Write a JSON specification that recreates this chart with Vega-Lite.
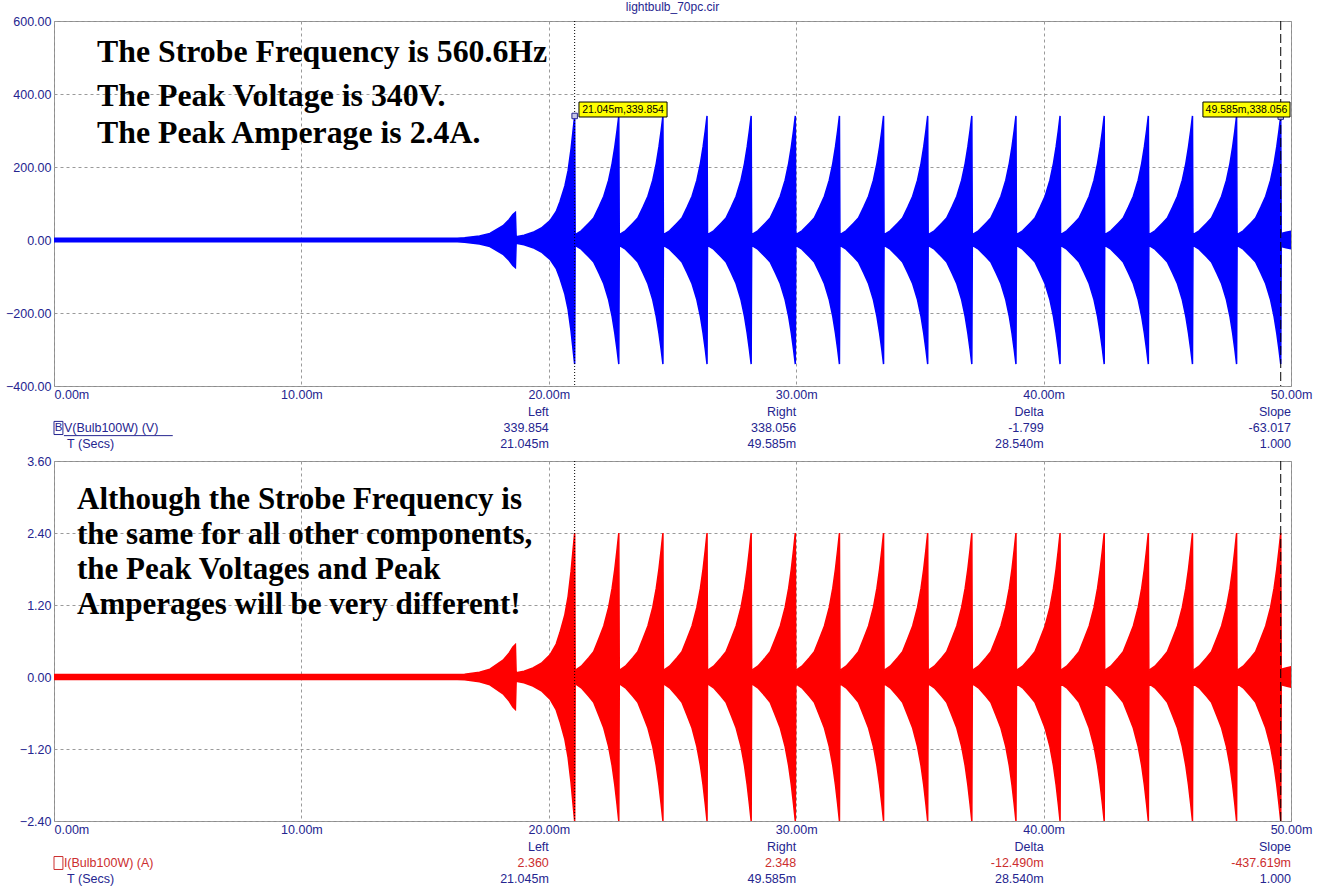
{
  "$schema": "https://vega.github.io/schema/vega-lite/v6.json",
  "background": "white",
  "padding": {"left": 4, "top": 0, "right": 5, "bottom": 0},
  "bounds": "flush",
  "spacing": 75,
  "config": {
    "view": {"stroke": "#8c8c8c", "strokeWidth": 1},
    "axis": {"labelFont": "Liberation Sans", "labelFontSize": 12.5, "labelColor": "#25258f", "ticks": false, "domain": false, "grid": true, "gridColor": "#9a9a9a", "gridDash": [3, 3], "gridWidth": 1, "title": null, "labelOverlap": false},
    "text": {"font": "Liberation Sans"}
  },
  "datasets": {
    "wave": [
      {"t":0,"vh":5,"vl":-5,"ih":0.04,"il":-0.04},
      {"t":16.3,"vh":5,"vl":-5,"ih":0.04,"il":-0.04},
      {"t":16.6,"vh":6,"vl":-6,"ih":0.045,"il":-0.045},
      {"t":17.2,"vh":11,"vl":-11,"ih":0.08,"il":-0.08},
      {"t":17.62,"vh":18,"vl":-18,"ih":0.13,"il":-0.13},
      {"t":18.15,"vh":39,"vl":-39,"ih":0.28,"il":-0.28},
      {"t":18.4,"vh":56,"vl":-56,"ih":0.4,"il":-0.4},
      {"t":18.55,"vh":70,"vl":-70,"ih":0.5,"il":-0.5},
      {"t":18.65,"vh":76,"vl":-76,"ih":0.54,"il":-0.54},
      {"t":18.68,"vh":9,"vl":-9,"ih":0.07,"il":-0.07},
      {"t":19.0,"vh":13,"vl":-13,"ih":0.095,"il":-0.095},
      {"t":19.36,"vh":21,"vl":-21,"ih":0.15,"il":-0.15},
      {"t":19.7,"vh":33,"vl":-33,"ih":0.23,"il":-0.23},
      {"t":20.05,"vh":53,"vl":-53,"ih":0.37,"il":-0.37},
      {"t":20.3,"vh":78,"vl":-78,"ih":0.55,"il":-0.55},
      {"t":20.45,"vh":105,"vl":-105,"ih":0.74,"il":-0.74},
      {"t":20.65,"vh":148,"vl":-148,"ih":1.04,"il":-1.04},
      {"t":20.78,"vh":190,"vl":-190,"ih":1.34,"il":-1.34},
      {"t":20.9,"vh":250,"vl":-250,"ih":1.76,"il":-1.76},
      {"t":20.98,"vh":300,"vl":-300,"ih":2.12,"il":-2.12},
      {"t":21.045,"vh":340,"vl":-340,"ih":2.4,"il":-2.4},

      {"t":21.065,"vh":15,"vl":-15,"ih":0.11,"il":-0.11},
      {"t":21.313,"vh":25,"vl":-25,"ih":0.18,"il":-0.18},
      {"t":21.616,"vh":46,"vl":-46,"ih":0.32,"il":-0.32},
      {"t":21.812,"vh":60,"vl":-60,"ih":0.42,"il":-0.42},
      {"t":22.026,"vh":90,"vl":-90,"ih":0.64,"il":-0.64},
      {"t":22.222,"vh":120,"vl":-120,"ih":0.85,"il":-0.85},
      {"t":22.418,"vh":164,"vl":-164,"ih":1.16,"il":-1.16},
      {"t":22.561,"vh":210,"vl":-210,"ih":1.48,"il":-1.48},
      {"t":22.668,"vh":255,"vl":-255,"ih":1.8,"il":-1.8},
      {"t":22.757,"vh":300,"vl":-300,"ih":2.12,"il":-2.12},
      {"t":22.829,"vh":340,"vl":-340,"ih":2.4,"il":-2.4},

      {"t":22.849,"vh":15,"vl":-15,"ih":0.11,"il":-0.11},
      {"t":23.097,"vh":25,"vl":-25,"ih":0.18,"il":-0.18},
      {"t":23.4,"vh":46,"vl":-46,"ih":0.32,"il":-0.32},
      {"t":23.596,"vh":60,"vl":-60,"ih":0.42,"il":-0.42},
      {"t":23.81,"vh":90,"vl":-90,"ih":0.64,"il":-0.64},
      {"t":24.006,"vh":120,"vl":-120,"ih":0.85,"il":-0.85},
      {"t":24.202,"vh":164,"vl":-164,"ih":1.16,"il":-1.16},
      {"t":24.345,"vh":210,"vl":-210,"ih":1.48,"il":-1.48},
      {"t":24.452,"vh":255,"vl":-255,"ih":1.8,"il":-1.8},
      {"t":24.541,"vh":300,"vl":-300,"ih":2.12,"il":-2.12},
      {"t":24.613,"vh":340,"vl":-340,"ih":2.4,"il":-2.4},

      {"t":24.633,"vh":15,"vl":-15,"ih":0.11,"il":-0.11},
      {"t":24.881,"vh":25,"vl":-25,"ih":0.18,"il":-0.18},
      {"t":25.184,"vh":46,"vl":-46,"ih":0.32,"il":-0.32},
      {"t":25.38,"vh":60,"vl":-60,"ih":0.42,"il":-0.42},
      {"t":25.594,"vh":90,"vl":-90,"ih":0.64,"il":-0.64},
      {"t":25.79,"vh":120,"vl":-120,"ih":0.85,"il":-0.85},
      {"t":25.986,"vh":164,"vl":-164,"ih":1.16,"il":-1.16},
      {"t":26.129,"vh":210,"vl":-210,"ih":1.48,"il":-1.48},
      {"t":26.236,"vh":255,"vl":-255,"ih":1.8,"il":-1.8},
      {"t":26.325,"vh":300,"vl":-300,"ih":2.12,"il":-2.12},
      {"t":26.396,"vh":340,"vl":-340,"ih":2.4,"il":-2.4},

      {"t":26.416,"vh":15,"vl":-15,"ih":0.11,"il":-0.11},
      {"t":26.664,"vh":25,"vl":-25,"ih":0.18,"il":-0.18},
      {"t":26.967,"vh":46,"vl":-46,"ih":0.32,"il":-0.32},
      {"t":27.163,"vh":60,"vl":-60,"ih":0.42,"il":-0.42},
      {"t":27.377,"vh":90,"vl":-90,"ih":0.64,"il":-0.64},
      {"t":27.573,"vh":120,"vl":-120,"ih":0.85,"il":-0.85},
      {"t":27.769,"vh":164,"vl":-164,"ih":1.16,"il":-1.16},
      {"t":27.912,"vh":210,"vl":-210,"ih":1.48,"il":-1.48},
      {"t":28.019,"vh":255,"vl":-255,"ih":1.8,"il":-1.8},
      {"t":28.108,"vh":300,"vl":-300,"ih":2.12,"il":-2.12},
      {"t":28.18,"vh":340,"vl":-340,"ih":2.4,"il":-2.4},

      {"t":28.2,"vh":15,"vl":-15,"ih":0.11,"il":-0.11},
      {"t":28.448,"vh":25,"vl":-25,"ih":0.18,"il":-0.18},
      {"t":28.751,"vh":46,"vl":-46,"ih":0.32,"il":-0.32},
      {"t":28.947,"vh":60,"vl":-60,"ih":0.42,"il":-0.42},
      {"t":29.161,"vh":90,"vl":-90,"ih":0.64,"il":-0.64},
      {"t":29.357,"vh":120,"vl":-120,"ih":0.85,"il":-0.85},
      {"t":29.553,"vh":164,"vl":-164,"ih":1.16,"il":-1.16},
      {"t":29.696,"vh":210,"vl":-210,"ih":1.48,"il":-1.48},
      {"t":29.803,"vh":255,"vl":-255,"ih":1.8,"il":-1.8},
      {"t":29.892,"vh":300,"vl":-300,"ih":2.12,"il":-2.12},
      {"t":29.964,"vh":340,"vl":-340,"ih":2.4,"il":-2.4},

      {"t":29.984,"vh":15,"vl":-15,"ih":0.11,"il":-0.11},
      {"t":30.232,"vh":25,"vl":-25,"ih":0.18,"il":-0.18},
      {"t":30.535,"vh":46,"vl":-46,"ih":0.32,"il":-0.32},
      {"t":30.731,"vh":60,"vl":-60,"ih":0.42,"il":-0.42},
      {"t":30.945,"vh":90,"vl":-90,"ih":0.64,"il":-0.64},
      {"t":31.141,"vh":120,"vl":-120,"ih":0.85,"il":-0.85},
      {"t":31.337,"vh":164,"vl":-164,"ih":1.16,"il":-1.16},
      {"t":31.48,"vh":210,"vl":-210,"ih":1.48,"il":-1.48},
      {"t":31.587,"vh":255,"vl":-255,"ih":1.8,"il":-1.8},
      {"t":31.676,"vh":300,"vl":-300,"ih":2.12,"il":-2.12},
      {"t":31.748,"vh":340,"vl":-340,"ih":2.4,"il":-2.4},

      {"t":31.768,"vh":15,"vl":-15,"ih":0.11,"il":-0.11},
      {"t":32.016,"vh":25,"vl":-25,"ih":0.18,"il":-0.18},
      {"t":32.319,"vh":46,"vl":-46,"ih":0.32,"il":-0.32},
      {"t":32.515,"vh":60,"vl":-60,"ih":0.42,"il":-0.42},
      {"t":32.729,"vh":90,"vl":-90,"ih":0.64,"il":-0.64},
      {"t":32.925,"vh":120,"vl":-120,"ih":0.85,"il":-0.85},
      {"t":33.121,"vh":164,"vl":-164,"ih":1.16,"il":-1.16},
      {"t":33.264,"vh":210,"vl":-210,"ih":1.48,"il":-1.48},
      {"t":33.371,"vh":255,"vl":-255,"ih":1.8,"il":-1.8},
      {"t":33.46,"vh":300,"vl":-300,"ih":2.12,"il":-2.12},
      {"t":33.531,"vh":340,"vl":-340,"ih":2.4,"il":-2.4},

      {"t":33.551,"vh":15,"vl":-15,"ih":0.11,"il":-0.11},
      {"t":33.799,"vh":25,"vl":-25,"ih":0.18,"il":-0.18},
      {"t":34.102,"vh":46,"vl":-46,"ih":0.32,"il":-0.32},
      {"t":34.298,"vh":60,"vl":-60,"ih":0.42,"il":-0.42},
      {"t":34.512,"vh":90,"vl":-90,"ih":0.64,"il":-0.64},
      {"t":34.708,"vh":120,"vl":-120,"ih":0.85,"il":-0.85},
      {"t":34.904,"vh":164,"vl":-164,"ih":1.16,"il":-1.16},
      {"t":35.047,"vh":210,"vl":-210,"ih":1.48,"il":-1.48},
      {"t":35.154,"vh":255,"vl":-255,"ih":1.8,"il":-1.8},
      {"t":35.243,"vh":300,"vl":-300,"ih":2.12,"il":-2.12},
      {"t":35.315,"vh":340,"vl":-340,"ih":2.4,"il":-2.4},

      {"t":35.335,"vh":15,"vl":-15,"ih":0.11,"il":-0.11},
      {"t":35.583,"vh":25,"vl":-25,"ih":0.18,"il":-0.18},
      {"t":35.886,"vh":46,"vl":-46,"ih":0.32,"il":-0.32},
      {"t":36.082,"vh":60,"vl":-60,"ih":0.42,"il":-0.42},
      {"t":36.296,"vh":90,"vl":-90,"ih":0.64,"il":-0.64},
      {"t":36.492,"vh":120,"vl":-120,"ih":0.85,"il":-0.85},
      {"t":36.688,"vh":164,"vl":-164,"ih":1.16,"il":-1.16},
      {"t":36.831,"vh":210,"vl":-210,"ih":1.48,"il":-1.48},
      {"t":36.938,"vh":255,"vl":-255,"ih":1.8,"il":-1.8},
      {"t":37.027,"vh":300,"vl":-300,"ih":2.12,"il":-2.12},
      {"t":37.099,"vh":340,"vl":-340,"ih":2.4,"il":-2.4},

      {"t":37.119,"vh":15,"vl":-15,"ih":0.11,"il":-0.11},
      {"t":37.367,"vh":25,"vl":-25,"ih":0.18,"il":-0.18},
      {"t":37.67,"vh":46,"vl":-46,"ih":0.32,"il":-0.32},
      {"t":37.866,"vh":60,"vl":-60,"ih":0.42,"il":-0.42},
      {"t":38.08,"vh":90,"vl":-90,"ih":0.64,"il":-0.64},
      {"t":38.276,"vh":120,"vl":-120,"ih":0.85,"il":-0.85},
      {"t":38.472,"vh":164,"vl":-164,"ih":1.16,"il":-1.16},
      {"t":38.615,"vh":210,"vl":-210,"ih":1.48,"il":-1.48},
      {"t":38.722,"vh":255,"vl":-255,"ih":1.8,"il":-1.8},
      {"t":38.811,"vh":300,"vl":-300,"ih":2.12,"il":-2.12},
      {"t":38.883,"vh":340,"vl":-340,"ih":2.4,"il":-2.4},

      {"t":38.903,"vh":15,"vl":-15,"ih":0.11,"il":-0.11},
      {"t":39.151,"vh":25,"vl":-25,"ih":0.18,"il":-0.18},
      {"t":39.454,"vh":46,"vl":-46,"ih":0.32,"il":-0.32},
      {"t":39.65,"vh":60,"vl":-60,"ih":0.42,"il":-0.42},
      {"t":39.864,"vh":90,"vl":-90,"ih":0.64,"il":-0.64},
      {"t":40.06,"vh":120,"vl":-120,"ih":0.85,"il":-0.85},
      {"t":40.256,"vh":164,"vl":-164,"ih":1.16,"il":-1.16},
      {"t":40.399,"vh":210,"vl":-210,"ih":1.48,"il":-1.48},
      {"t":40.506,"vh":255,"vl":-255,"ih":1.8,"il":-1.8},
      {"t":40.595,"vh":300,"vl":-300,"ih":2.12,"il":-2.12},
      {"t":40.666,"vh":340,"vl":-340,"ih":2.4,"il":-2.4},

      {"t":40.686,"vh":15,"vl":-15,"ih":0.11,"il":-0.11},
      {"t":40.934,"vh":25,"vl":-25,"ih":0.18,"il":-0.18},
      {"t":41.237,"vh":46,"vl":-46,"ih":0.32,"il":-0.32},
      {"t":41.433,"vh":60,"vl":-60,"ih":0.42,"il":-0.42},
      {"t":41.647,"vh":90,"vl":-90,"ih":0.64,"il":-0.64},
      {"t":41.843,"vh":120,"vl":-120,"ih":0.85,"il":-0.85},
      {"t":42.039,"vh":164,"vl":-164,"ih":1.16,"il":-1.16},
      {"t":42.182,"vh":210,"vl":-210,"ih":1.48,"il":-1.48},
      {"t":42.289,"vh":255,"vl":-255,"ih":1.8,"il":-1.8},
      {"t":42.378,"vh":300,"vl":-300,"ih":2.12,"il":-2.12},
      {"t":42.45,"vh":340,"vl":-340,"ih":2.4,"il":-2.4},

      {"t":42.47,"vh":15,"vl":-15,"ih":0.11,"il":-0.11},
      {"t":42.718,"vh":25,"vl":-25,"ih":0.18,"il":-0.18},
      {"t":43.021,"vh":46,"vl":-46,"ih":0.32,"il":-0.32},
      {"t":43.217,"vh":60,"vl":-60,"ih":0.42,"il":-0.42},
      {"t":43.431,"vh":90,"vl":-90,"ih":0.64,"il":-0.64},
      {"t":43.627,"vh":120,"vl":-120,"ih":0.85,"il":-0.85},
      {"t":43.823,"vh":164,"vl":-164,"ih":1.16,"il":-1.16},
      {"t":43.966,"vh":210,"vl":-210,"ih":1.48,"il":-1.48},
      {"t":44.073,"vh":255,"vl":-255,"ih":1.8,"il":-1.8},
      {"t":44.162,"vh":300,"vl":-300,"ih":2.12,"il":-2.12},
      {"t":44.234,"vh":340,"vl":-340,"ih":2.4,"il":-2.4},

      {"t":44.254,"vh":15,"vl":-15,"ih":0.11,"il":-0.11},
      {"t":44.502,"vh":25,"vl":-25,"ih":0.18,"il":-0.18},
      {"t":44.805,"vh":46,"vl":-46,"ih":0.32,"il":-0.32},
      {"t":45.001,"vh":60,"vl":-60,"ih":0.42,"il":-0.42},
      {"t":45.215,"vh":90,"vl":-90,"ih":0.64,"il":-0.64},
      {"t":45.411,"vh":120,"vl":-120,"ih":0.85,"il":-0.85},
      {"t":45.607,"vh":164,"vl":-164,"ih":1.16,"il":-1.16},
      {"t":45.75,"vh":210,"vl":-210,"ih":1.48,"il":-1.48},
      {"t":45.857,"vh":255,"vl":-255,"ih":1.8,"il":-1.8},
      {"t":45.946,"vh":300,"vl":-300,"ih":2.12,"il":-2.12},
      {"t":46.018,"vh":340,"vl":-340,"ih":2.4,"il":-2.4},

      {"t":46.038,"vh":15,"vl":-15,"ih":0.11,"il":-0.11},
      {"t":46.286,"vh":25,"vl":-25,"ih":0.18,"il":-0.18},
      {"t":46.589,"vh":46,"vl":-46,"ih":0.32,"il":-0.32},
      {"t":46.785,"vh":60,"vl":-60,"ih":0.42,"il":-0.42},
      {"t":46.999,"vh":90,"vl":-90,"ih":0.64,"il":-0.64},
      {"t":47.195,"vh":120,"vl":-120,"ih":0.85,"il":-0.85},
      {"t":47.391,"vh":164,"vl":-164,"ih":1.16,"il":-1.16},
      {"t":47.534,"vh":210,"vl":-210,"ih":1.48,"il":-1.48},
      {"t":47.641,"vh":255,"vl":-255,"ih":1.8,"il":-1.8},
      {"t":47.73,"vh":300,"vl":-300,"ih":2.12,"il":-2.12},
      {"t":47.801,"vh":340,"vl":-340,"ih":2.4,"il":-2.4},

      {"t":47.821,"vh":15,"vl":-15,"ih":0.11,"il":-0.11},
      {"t":48.069,"vh":25,"vl":-25,"ih":0.18,"il":-0.18},
      {"t":48.372,"vh":46,"vl":-46,"ih":0.32,"il":-0.32},
      {"t":48.568,"vh":60,"vl":-60,"ih":0.42,"il":-0.42},
      {"t":48.782,"vh":90,"vl":-90,"ih":0.64,"il":-0.64},
      {"t":48.978,"vh":120,"vl":-120,"ih":0.85,"il":-0.85},
      {"t":49.174,"vh":164,"vl":-164,"ih":1.16,"il":-1.16},
      {"t":49.317,"vh":210,"vl":-210,"ih":1.48,"il":-1.48},
      {"t":49.424,"vh":255,"vl":-255,"ih":1.8,"il":-1.8},
      {"t":49.513,"vh":300,"vl":-300,"ih":2.12,"il":-2.12},
      {"t":49.585,"vh":340,"vl":-340,"ih":2.4,"il":-2.4},

      {"t":49.605,"vh":18,"vl":-18,"ih":0.13,"il":-0.13},
      {"t":49.8,"vh":21,"vl":-21,"ih":0.15,"il":-0.15},
      {"t":50.0,"vh":24,"vl":-24,"ih":0.17,"il":-0.17}
    ],
    "cursorL": [{"t": 21.045}],
    "cursorR": [{"t": 49.585}]
  },
  "vconcat": [
    {
      "width": 1237,
      "height": 365,
      "title": {"text": "lightbulb_70pc.cir", "font": "Liberation Sans", "fontSize": 12, "fontWeight": "normal", "color": "#25258f", "offset": 1, "anchor": "middle"},
      "layer": [
        {
          "data": {"name": "wave"},
          "mark": {"type": "area", "color": "#0000ff", "stroke": "#0000ff", "strokeWidth": 1.5, "clip": true},
          "encoding": {
            "x": {"field": "t", "type": "quantitative", "scale": {"domain": [0, 50], "nice": false, "zero": false},
                  "axis": {"values": [0, 10, 20, 30, 40, 50], "labelExpr": "format(datum.value, '.2f') + 'm'", "labelFlush": false, "labelPadding": 2,
                           "labelAlign": {"condition": {"test": "datum.value == 0", "value": "left"}, "value": "center"}}},
            "y": {"field": "vh", "type": "quantitative", "scale": {"domain": [-400, 600], "nice": false, "zero": false},
                  "axis": {"values": [-400, -200, 0, 200, 400, 600], "format": ".2f", "labelPadding": 3}},
            "y2": {"field": "vl"}
          }
        },
        {
          "data": {"name": "cursorL"},
          "mark": {"type": "rule", "color": "#000000", "strokeWidth": 1, "strokeDash": [1, 2]},
          "encoding": {"x": {"field": "t", "type": "quantitative"}}
        },
        {
          "data": {"name": "cursorR"},
          "mark": {"type": "rule", "color": "#000000", "strokeWidth": 1, "strokeDash": [9, 4]},
          "encoding": {"x": {"field": "t", "type": "quantitative"}}
        },
        {
          "data": {"values": [{"t": 21.045, "v": 339.854}, {"t": 49.585, "v": 338.056}]},
          "mark": {"type": "point", "shape": "square", "size": 30, "filled": true, "fill": "#c8c8e6", "stroke": "#25258f", "strokeWidth": 1, "opacity": 1},
          "encoding": {"x": {"field": "t", "type": "quantitative"}, "y": {"field": "v", "type": "quantitative"}}
        },
        {
          "data": {"values": [{"t1": 21.22, "t2": 24.78, "y1": 337, "y2": 378}, {"t1": 46.44, "t2": 49.96, "y1": 337, "y2": 378}]},
          "mark": {"type": "rect", "fill": "#ffff00", "stroke": "#000000", "strokeWidth": 1},
          "encoding": {"x": {"field": "t1", "type": "quantitative"}, "x2": {"field": "t2"}, "y": {"field": "y1", "type": "quantitative"}, "y2": {"field": "y2"}}
        },
        {
          "data": {"values": [{"t": 23.0, "y": 357.5, "label": "21.045m,339.854"}, {"t": 48.2, "y": 357.5, "label": "49.585m,338.056"}]},
          "mark": {"type": "text", "font": "Liberation Sans", "fontSize": 10.5, "color": "#000000", "align": "center", "baseline": "middle"},
          "encoding": {"x": {"field": "t", "type": "quantitative"}, "y": {"field": "y", "type": "quantitative"}, "text": {"field": "label"}}
        },
        {
          "data": {"values": [
            {"t": 1.74, "y": 488, "label": "The Strobe Frequency is 560.6Hz"},
            {"t": 1.74, "y": 367, "label": "The Peak Voltage is 340V."},
            {"t": 1.74, "y": 266, "label": "The Peak Amperage is 2.4A."}
          ]},
          "mark": {"type": "text", "font": "Liberation Serif", "fontWeight": "bold", "fontSize": 31.8, "color": "#000000", "align": "left", "baseline": "alphabetic"},
          "encoding": {"x": {"field": "t", "type": "quantitative"}, "y": {"field": "y", "type": "quantitative"}, "text": {"field": "label"}}
        },
        {
          "data": {"values": [
            {"t": 20, "y": -471, "label": "Left"}, {"t": 20, "y": -515, "label": "339.854"}, {"t": 20, "y": -559, "label": "21.045m"},
            {"t": 30, "y": -471, "label": "Right"}, {"t": 30, "y": -515, "label": "338.056"}, {"t": 30, "y": -559, "label": "49.585m"},
            {"t": 40, "y": -471, "label": "Delta"}, {"t": 40, "y": -515, "label": "-1.799"}, {"t": 40, "y": -559, "label": "28.540m"},
            {"t": 50, "y": -471, "label": "Slope"}, {"t": 50, "y": -515, "label": "-63.017"}, {"t": 50, "y": -559, "label": "1.000"}
          ]},
          "mark": {"type": "text", "font": "Liberation Sans", "fontSize": 12.5, "color": "#25258f", "align": "right", "baseline": "middle"},
          "encoding": {"x": {"field": "t", "type": "quantitative"}, "y": {"field": "y", "type": "quantitative"}, "text": {"field": "label"}}
        },
        {
          "data": {"values": [
            {"t": 0.4, "y": -515, "label": "V(Bulb100W) (V)"},
            {"t": 0.53, "y": -559, "label": "T (Secs)"}
          ]},
          "mark": {"type": "text", "font": "Liberation Sans", "fontSize": 12.5, "color": "#25258f", "align": "left", "baseline": "middle"},
          "encoding": {"x": {"field": "t", "type": "quantitative"}, "y": {"field": "y", "type": "quantitative"}, "text": {"field": "label"}}
        },
        {
          "data": {"values": [{"t1": 0.0, "t2": 0.36, "y1": -497, "y2": -533}]},
          "mark": {"type": "rect", "fill": null, "fillOpacity": 0, "stroke": "#25258f", "strokeWidth": 1},
          "encoding": {"x": {"field": "t1", "type": "quantitative"}, "x2": {"field": "t2"}, "y": {"field": "y1", "type": "quantitative"}, "y2": {"field": "y2"}}
        },
        {
          "data": {"values": [{"t": 0.18, "y": -515, "label": "B"}]},
          "mark": {"type": "text", "font": "Liberation Sans", "fontSize": 11.5, "color": "#25258f", "align": "center", "baseline": "middle"},
          "encoding": {"x": {"field": "t", "type": "quantitative"}, "y": {"field": "y", "type": "quantitative"}, "text": {"field": "label"}}
        },
        {
          "data": {"values": [{"t1": 0.4, "t2": 4.8, "y": -536}]},
          "mark": {"type": "rule", "color": "#25258f", "strokeWidth": 1},
          "encoding": {"x": {"field": "t1", "type": "quantitative"}, "x2": {"field": "t2"}, "y": {"field": "y", "type": "quantitative"}}
        }
      ]
    },
    {
      "width": 1237,
      "height": 360,
      "layer": [
        {
          "data": {"name": "wave"},
          "mark": {"type": "area", "color": "#ff0000", "stroke": "#ff0000", "strokeWidth": 1.5, "clip": true},
          "encoding": {
            "x": {"field": "t", "type": "quantitative", "scale": {"domain": [0, 50], "nice": false, "zero": false},
                  "axis": {"values": [0, 10, 20, 30, 40, 50], "labelExpr": "format(datum.value, '.2f') + 'm'", "labelFlush": false, "labelPadding": 2,
                           "labelAlign": {"condition": {"test": "datum.value == 0", "value": "left"}, "value": "center"}}},
            "y": {"field": "ih", "type": "quantitative", "scale": {"domain": [-2.4, 3.6], "nice": false, "zero": false},
                  "axis": {"values": [-2.4, -1.2, 0, 1.2, 2.4, 3.6], "format": ".2f", "labelPadding": 3}},
            "y2": {"field": "il"}
          }
        },
        {
          "data": {"name": "cursorL"},
          "mark": {"type": "rule", "color": "#000000", "strokeWidth": 1, "strokeDash": [1, 2]},
          "encoding": {"x": {"field": "t", "type": "quantitative"}}
        },
        {
          "data": {"name": "cursorR"},
          "mark": {"type": "rule", "color": "#000000", "strokeWidth": 1, "strokeDash": [9, 4]},
          "encoding": {"x": {"field": "t", "type": "quantitative"}}
        },
        {
          "data": {"values": [
            {"t": 0.93, "y": 2.8, "label": "Although the Strobe Frequency is"},
            {"t": 0.93, "y": 2.217, "label": "the same for all other components,"},
            {"t": 0.93, "y": 1.633, "label": "the Peak Voltages and Peak"},
            {"t": 0.93, "y": 1.05, "label": "Amperages will be very different!"}
          ]},
          "mark": {"type": "text", "font": "Liberation Serif", "fontWeight": "bold", "fontSize": 31, "color": "#000000", "align": "left", "baseline": "alphabetic"},
          "encoding": {"x": {"field": "t", "type": "quantitative"}, "y": {"field": "y", "type": "quantitative"}, "text": {"field": "label"}}
        },
        {
          "data": {"values": [
            {"t": 20, "y": -2.833, "label": "Left"}, {"t": 20, "y": -3.367, "label": "21.045m"},
            {"t": 30, "y": -2.833, "label": "Right"}, {"t": 30, "y": -3.367, "label": "49.585m"},
            {"t": 40, "y": -2.833, "label": "Delta"}, {"t": 40, "y": -3.367, "label": "28.540m"},
            {"t": 50, "y": -2.833, "label": "Slope"}, {"t": 50, "y": -3.367, "label": "1.000"}
          ]},
          "mark": {"type": "text", "font": "Liberation Sans", "fontSize": 12.5, "color": "#25258f", "align": "right", "baseline": "middle"},
          "encoding": {"x": {"field": "t", "type": "quantitative"}, "y": {"field": "y", "type": "quantitative"}, "text": {"field": "label"}}
        },
        {
          "data": {"values": [
            {"t": 20, "y": -3.1, "label": "2.360"},
            {"t": 30, "y": -3.1, "label": "2.348"},
            {"t": 40, "y": -3.1, "label": "-12.490m"},
            {"t": 50, "y": -3.1, "label": "-437.619m"}
          ]},
          "mark": {"type": "text", "font": "Liberation Sans", "fontSize": 12.5, "color": "#cc2e2e", "align": "right", "baseline": "middle"},
          "encoding": {"x": {"field": "t", "type": "quantitative"}, "y": {"field": "y", "type": "quantitative"}, "text": {"field": "label"}}
        },
        {
          "data": {"values": [{"t": 0.4, "y": -3.1, "label": "I(Bulb100W) (A)"}]},
          "mark": {"type": "text", "font": "Liberation Sans", "fontSize": 12.5, "color": "#cc2e2e", "align": "left", "baseline": "middle"},
          "encoding": {"x": {"field": "t", "type": "quantitative"}, "y": {"field": "y", "type": "quantitative"}, "text": {"field": "label"}}
        },
        {
          "data": {"values": [{"t": 0.53, "y": -3.367, "label": "T (Secs)"}]},
          "mark": {"type": "text", "font": "Liberation Sans", "fontSize": 12.5, "color": "#25258f", "align": "left", "baseline": "middle"},
          "encoding": {"x": {"field": "t", "type": "quantitative"}, "y": {"field": "y", "type": "quantitative"}, "text": {"field": "label"}}
        },
        {
          "data": {"values": [{"t1": 0.0, "t2": 0.36, "y1": -2.992, "y2": -3.208}]},
          "mark": {"type": "rect", "fill": null, "fillOpacity": 0, "stroke": "#cc2e2e", "strokeWidth": 1},
          "encoding": {"x": {"field": "t1", "type": "quantitative"}, "x2": {"field": "t2"}, "y": {"field": "y1", "type": "quantitative"}, "y2": {"field": "y2"}}
        }
      ]
    }
  ]
}
